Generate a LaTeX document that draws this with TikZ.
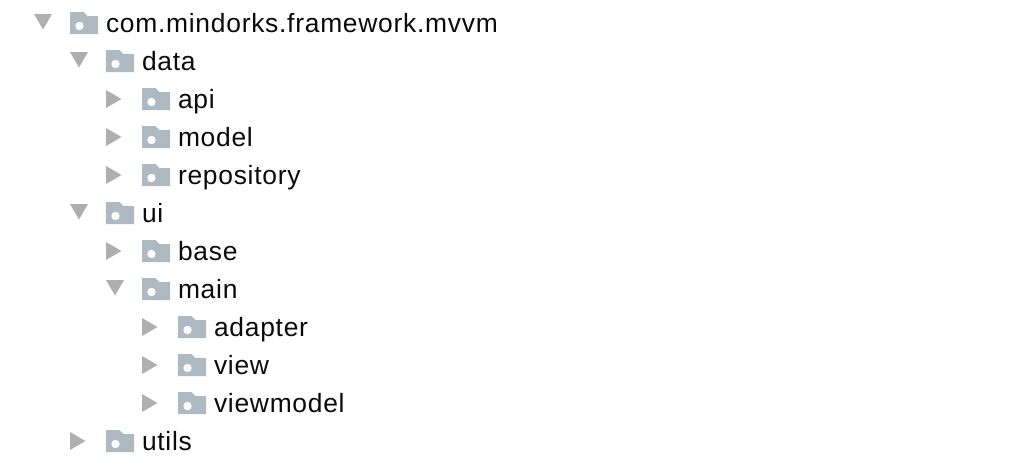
\documentclass[tikz,border=0pt]{standalone}
\usepackage{fontspec}
\setmainfont[LetterSpace=2.8]{Liberation Sans}
\definecolor{folder}{HTML}{AFB9C1}
\definecolor{arrowc}{HTML}{AFAFAF}
\definecolor{txt}{HTML}{0A0A0A}
\tikzset{x=1pt,y=-1pt,
  lbl/.style={anchor=base west,inner sep=0pt,outer sep=0pt,text=txt,font=\fontsize{26.4}{30}\selectfont},
}
\newcommand{\foldericon}[2]{% x, y centre of row
  \fill[folder] (#1,#2-11) -- (#1+13.5,#2-11) -- (#1+17.5,#2-7) -- (#1+28,#2-7) -- (#1+28,#2+11) -- (#1,#2+11) -- cycle;
  \fill[white] (#1+9.5,#2+3) circle (4.2);
}
\newcommand{\openrow}[4]{% name, x of folder, y, text
  \fill[arrowc] (#2-36,#3-9) -- (#2-18,#3-9) -- (#2-27,#3+6.5) -- cycle;
  \foldericon{#2}{#3}
  \node[lbl] (#1) at (#2+36,#3+9) {#4};
}
\newcommand{\closedrow}[4]{%
  \fill[arrowc] (#2-36,#3-9) -- (#2-20.5,#3) -- (#2-36,#3+9) -- cycle;
  \foldericon{#2}{#3}
  \node[lbl] (#1) at (#2+36,#3+9) {#4};
}
\begin{document}
\begin{tikzpicture}
\useasboundingbox (0,0) rectangle (1016,464);
\fill[white] (0,0) rectangle (1016,464);
\openrow{root}{70}{23}{com.mindorks.framework.mvvm}
\openrow{data}{106}{61}{data}
\closedrow{api}{142}{99}{api}
\closedrow{model}{142}{137}{model}
\closedrow{repository}{142}{175}{repository}
\openrow{ui}{106}{213}{ui}
\closedrow{base}{142}{251}{base}
\openrow{main}{142}{289}{main}
\closedrow{adapter}{178}{327}{adapter}
\closedrow{view}{178}{365}{view}
\closedrow{viewmodel}{178}{403}{viewmodel}
\closedrow{utils}{106}{441}{utils}
\end{tikzpicture}
\end{document}
